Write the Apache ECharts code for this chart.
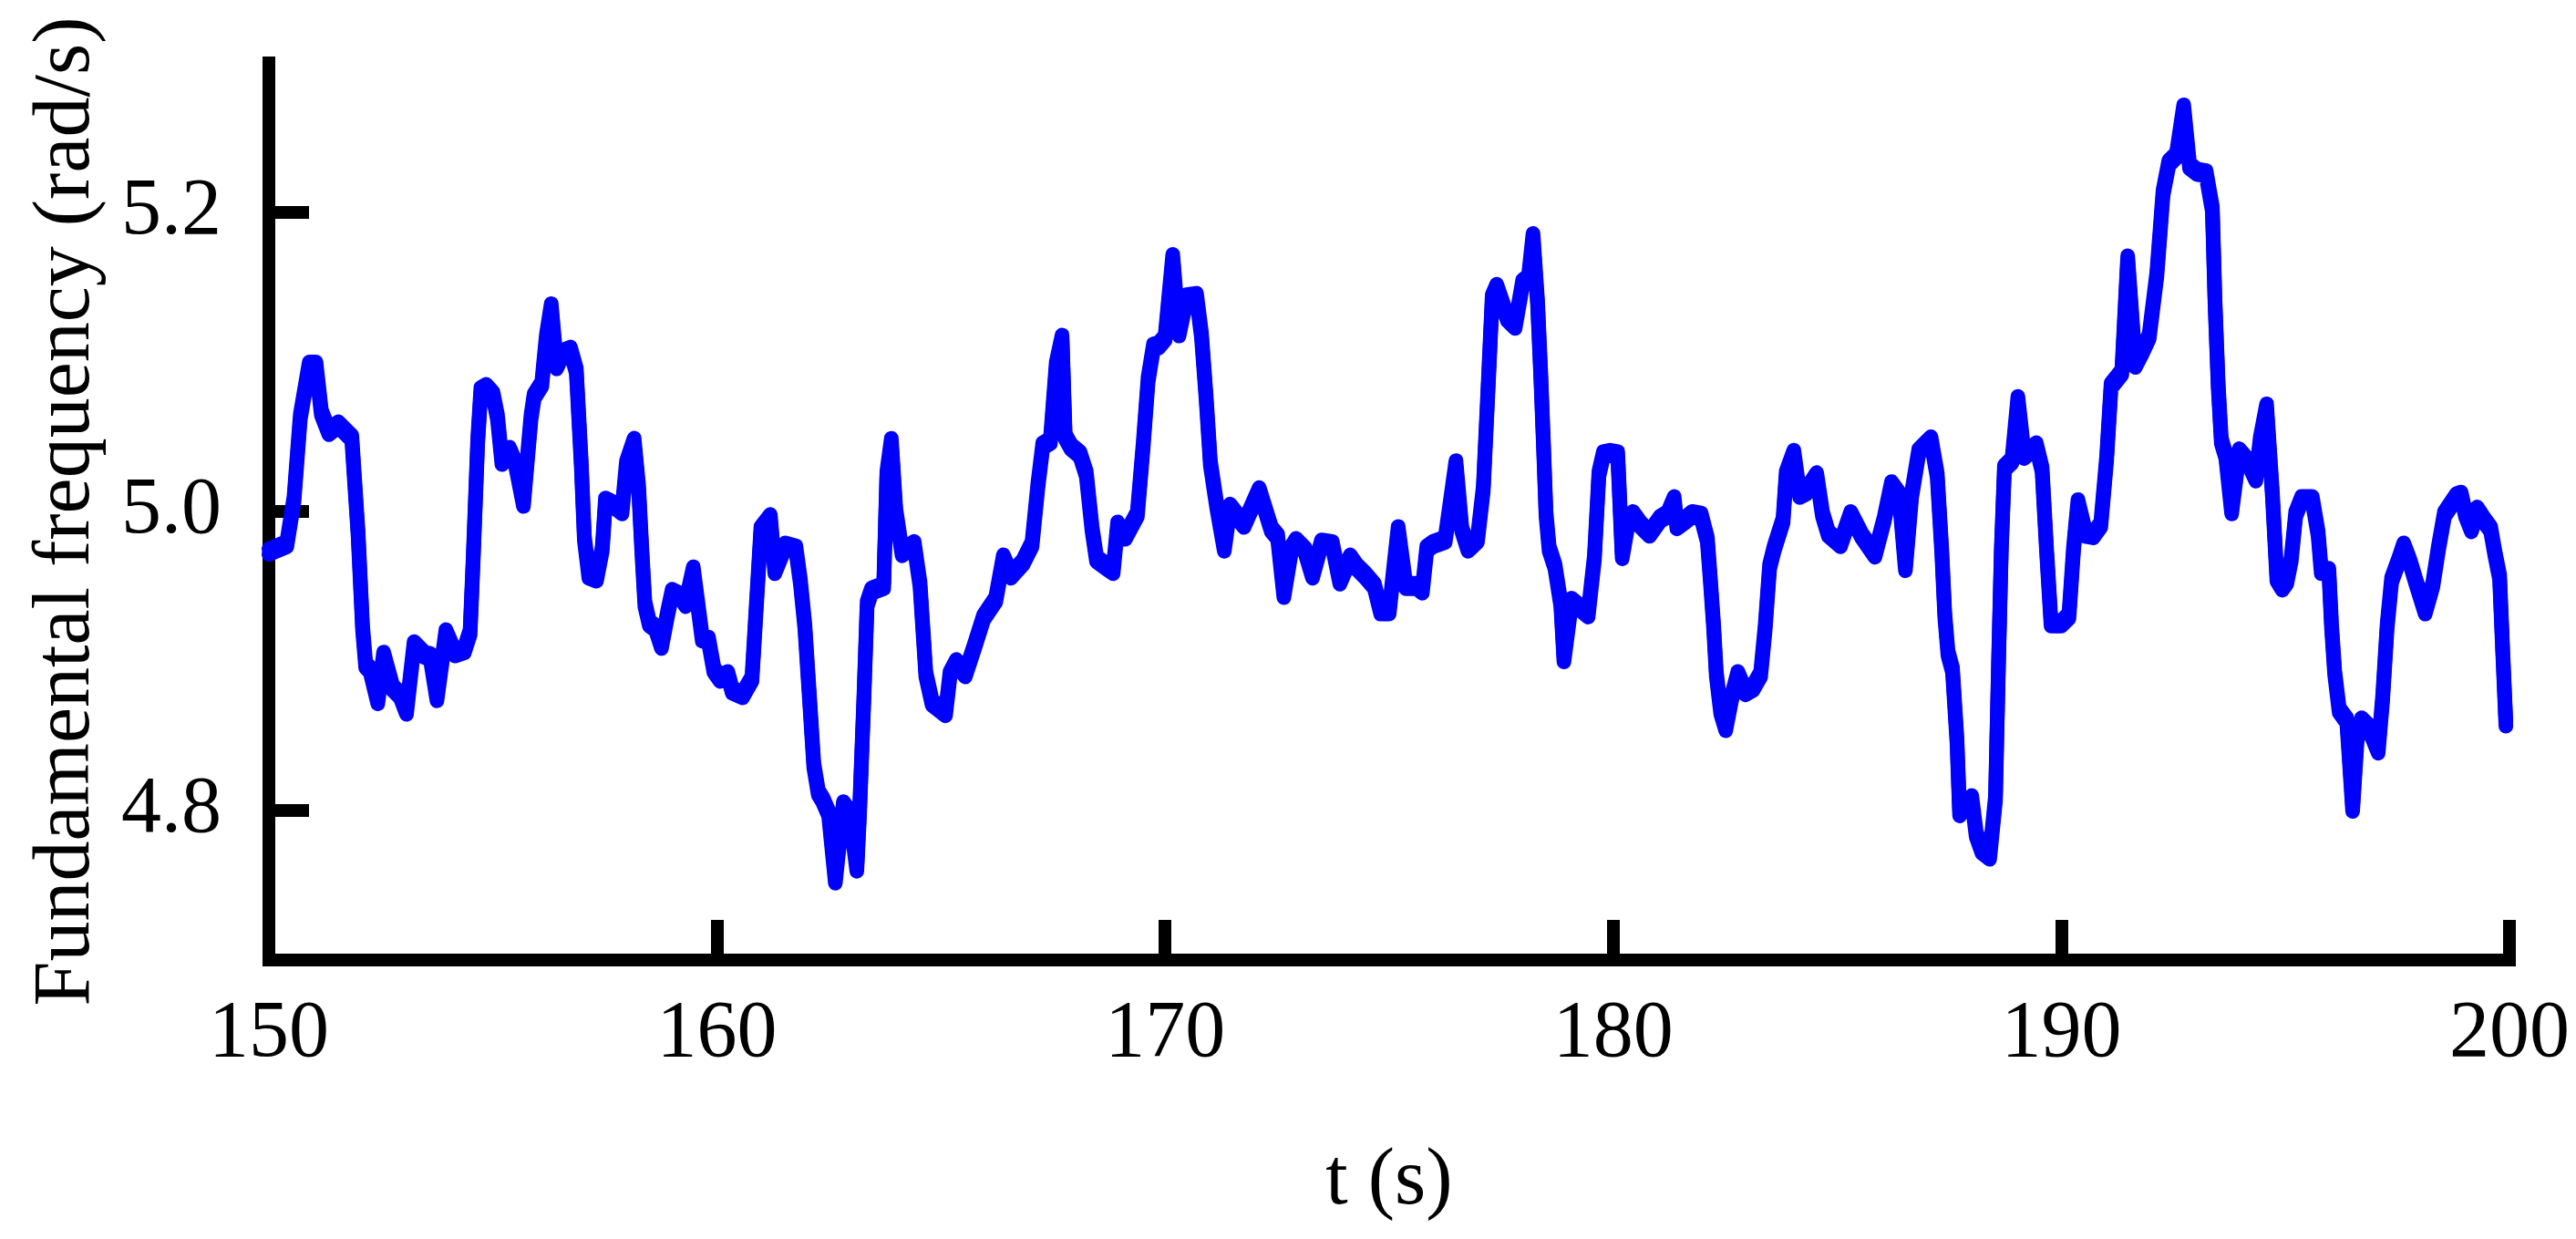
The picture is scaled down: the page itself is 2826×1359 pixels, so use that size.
<!DOCTYPE html>
<html>
<head>
<meta charset="utf-8">
<script src="https://cdn.jsdelivr.net/npm/echarts@6/dist/echarts.min.js"></script>
<style>
html,body{margin:0;padding:0;background:#fff;}
#chart{width:2826px;height:1359px;}
</style>
</head>
<body>
<div id="chart"></div>
<script>
const times = [
150.0,150.4,150.56,150.7,150.9,151.05,151.17,151.34,151.55,151.85,151.99,152.09,152.16,152.26,152.43,152.56,152.76,152.93,153.07,153.24,153.47,153.6,153.75,153.95,154.15,154.36,154.49,154.56,154.66,154.73,
154.85,155.0,155.1,155.2,155.37,155.51,155.68,155.85,155.92,156.09,156.19,156.3,156.42,156.56,156.73,156.86,156.97,157.04,157.14,157.31,157.44,157.51,157.71,157.88,157.98,158.15,158.25,158.32,158.39,158.49,158.63,158.76,158.9,159.0,159.2,159.3,159.47,159.57,159.67,159.81,
159.93,160.07,160.24,160.34,160.57,160.78,160.88,160.98,161.19,161.29,161.52,161.76,161.86,161.96,162.06,162.16,162.26,162.36,162.49,162.64,162.82,162.96,163.12,163.18,163.28,163.35,163.45,163.72,163.79,163.89,163.99,164.13,164.4,164.53,164.66,164.8,
165.1,165.2,165.34,165.54,165.75,165.95,166.22,166.39,166.56,166.83,167.03,167.16,167.27,167.44,167.57,167.7,167.77,167.9,168.1,168.24,168.37,168.47,168.7,168.84,168.94,169.11,169.38,169.51,169.62,169.74,
169.86,170.0,170.17,170.31,170.48,170.7,170.81,170.91,171.01,171.15,171.32,171.45,171.76,172.1,172.37,172.51,172.65,172.82,172.92,173.12,173.29,173.49,173.73,173.9,174.13,174.27,174.47,174.67,174.81,
175.0,175.2,175.37,175.61,175.74,175.84,175.98,176.25,176.49,176.62,176.76,176.97,177.1,177.2,177.3,177.4,177.64,177.81,177.98,178.11,178.21,178.31,178.38,178.44,178.5,178.57,178.7,178.83,178.9,179.07,179.24,179.44,179.58,179.68,179.78,
179.93,180.1,180.2,180.34,180.44,180.61,180.81,181.05,181.22,181.36,181.42,181.6,181.76,181.96,182.1,182.17,182.24,182.3,182.4,182.51,182.64,182.78,182.95,183.12,183.29,183.39,183.49,183.59,183.79,183.86,184.03,184.16,184.3,184.54,184.67,184.8,
185.07,185.3,185.54,185.84,186.05,186.21,186.38,186.52,186.66,186.82,187.09,187.23,187.33,187.4,187.47,187.57,187.67,187.73,187.8,188.0,188.1,188.23,188.4,188.53,188.6,188.66,188.73,188.9,189.03,189.17,189.44,189.57,189.67,189.77,
190.0,190.17,190.27,190.37,190.54,190.71,190.88,191.01,191.11,191.35,191.48,191.65,191.79,191.96,192.13,192.27,192.4,192.57,192.73,192.86,193.03,193.23,193.37,193.43,193.5,193.57,193.67,193.8,193.97,194.17,194.34,194.44,194.58,194.71,194.81,
194.93,195.03,195.13,195.23,195.36,195.6,195.73,195.8,195.97,196.03,196.1,196.2,196.37,196.5,196.6,196.7,196.87,197.07,197.17,197.27,197.37,197.54,197.64,197.78,197.91,198.12,198.29,198.42,198.55,198.82,198.92,199.02,199.15,199.28,199.41,199.58,199.68,199.78,199.85,199.92
];
const values = [
4.975,4.98,5.01,5.065,5.10,5.10,5.068,5.055,5.06,5.051,4.987,4.924,4.899,4.896,4.875,4.906,4.884,4.879,4.868,4.913,4.906,4.905,4.877,4.921,4.907,4.909,4.921,4.971,5.049,5.083,
5.085,5.08,5.065,5.035,5.043,5.033,5.007,5.065,5.079,5.087,5.118,5.139,5.099,5.108,5.11,5.096,5.034,4.984,4.959,4.957,4.977,5.009,5.006,5.002,5.034,5.049,5.018,4.977,4.94,4.927,4.924,4.912,4.934,4.948,4.945,4.94,4.963,4.94,4.917,4.916,
4.896,4.89,4.893,4.882,4.879,4.89,4.94,4.99,4.998,4.962,4.979,4.977,4.955,4.925,4.879,4.832,4.814,4.809,4.80,4.755,4.806,4.80,4.763,4.80,4.879,4.94,4.949,4.952,5.027,5.049,5.002,4.974,4.98,4.953,4.893,4.874,
4.867,4.893,4.901,4.893,4.912,4.931,4.943,4.971,4.959,4.968,4.98,5.019,5.046,5.049,5.10,5.118,5.052,5.045,5.04,5.027,4.99,4.97,4.965,4.962,4.993,4.985,5.0,5.046,5.09,5.112,
5.113,5.118,5.172,5.121,5.145,5.146,5.12,5.08,5.034,5.006,4.977,5.005,4.993,5.016,4.99,4.985,4.946,4.977,4.982,4.976,4.959,4.981,4.98,4.955,4.971,4.965,4.959,4.952,4.935,
4.935,4.99,4.952,4.952,4.949,4.977,4.98,4.983,5.034,4.99,4.977,4.983,5.017,5.08,5.145,5.152,5.131,5.126,5.155,5.158,5.186,5.142,5.095,5.049,5.0,4.977,4.965,4.94,4.903,4.942,4.938,4.933,4.971,5.027,5.04,
5.041,5.04,4.972,4.996,5.0,4.993,4.987,4.997,5.0,5.01,4.992,4.996,5.0,4.999,4.983,4.955,4.925,4.893,4.868,4.857,4.877,4.893,4.881,4.884,4.893,4.924,4.965,4.977,4.996,5.027,5.041,5.013,5.015,5.026,5.0,4.987,
4.98,5.0,4.986,4.973,4.997,5.02,5.013,4.964,5.013,5.042,5.05,5.026,4.976,4.932,4.907,4.896,4.849,4.80,4.804,4.81,4.786,4.775,4.771,4.81,4.903,4.976,5.031,5.036,5.077,5.039,5.046,5.03,4.976,4.927,
4.927,4.932,4.976,5.008,4.987,4.986,4.993,5.037,5.086,5.095,5.171,5.10,5.108,5.119,5.16,5.215,5.235,5.24,5.272,5.233,5.229,5.228,5.204,5.141,5.086,5.049,5.039,5.002,5.042,5.035,5.024,5.05,5.072,5.013,4.957,
4.951,4.955,4.97,5.0,5.01,5.01,4.987,4.962,4.962,4.925,4.894,4.869,4.862,4.803,4.85,4.862,4.857,4.842,4.877,4.925,4.956,4.97,4.979,4.968,4.955,4.935,4.953,4.978,5.0,5.012,5.013,5.0,4.99,5.003,4.997,4.99,4.973,4.958,4.908,4.86
];
const xTicks = [150, 160, 170, 180, 190, 200];
const yTicks = [4.8, 5.0, 5.2];
const xName = 't (s)';
const yName = 'Fundamental frequency (rad/s)';

const seriesData = times.map((t, i) => [t, values[i]]);
const FONT = 'Liberation Serif';

const chart = echarts.init(document.getElementById('chart'), null, {renderer: 'canvas'});
chart.setOption({
  animation: false,
  backgroundColor: '#ffffff',
  grid: {left: 295, right: 73, top: 69, bottom: 306, containLabel: false},
  xAxis: {
    type: 'value',
    min: xTicks[0], max: xTicks[xTicks.length - 1], interval: 10,
    name: xName, nameLocation: 'middle', nameGap: 200,
    nameTextStyle: {fontFamily: FONT, fontSize: 88, color: '#000'},
    axisLine: {show: true, onZero: false, lineStyle: {color: '#000', width: 14, cap: 'square'}},
    axisTick: {show: true, inside: true, length: 44, lineStyle: {color: '#000', width: 14}},
    axisLabel: {margin: 38, fontFamily: FONT, fontSize: 88, color: '#000',
      showMinLabel: true, showMaxLabel: true},
    splitLine: {show: false}
  },
  yAxis: {
    type: 'value',
    min: 4.7, max: 5.3, interval: 0.1,
    name: yName, nameLocation: 'middle', nameGap: 177, nameRotate: 90,
    nameTextStyle: {fontFamily: FONT, fontSize: 88, color: '#000'},
    axisLine: {show: true, onZero: false, lineStyle: {color: '#000', width: 14, cap: 'square'}},
    axisTick: {show: true, inside: true, length: 44, customValues: yTicks, lineStyle: {color: '#000', width: 14}},
    axisLabel: {margin: 52, fontFamily: FONT, fontSize: 88, color: '#000', customValues: yTicks,
      formatter: v => Number(v).toFixed(1)},
    splitLine: {show: false}
  },
  series: [{
    type: 'line',
    data: seriesData,
    showSymbol: false,
    smooth: false,
    clip: false,
    lineStyle: {
      color: '#0000FF', width: 16, join: 'round', cap: 'round',
      shadowColor: '#0000FF', shadowBlur: 0, shadowOffsetX: 0, shadowOffsetY: 6
    }
  }]
});
</script>
</body>
</html>
